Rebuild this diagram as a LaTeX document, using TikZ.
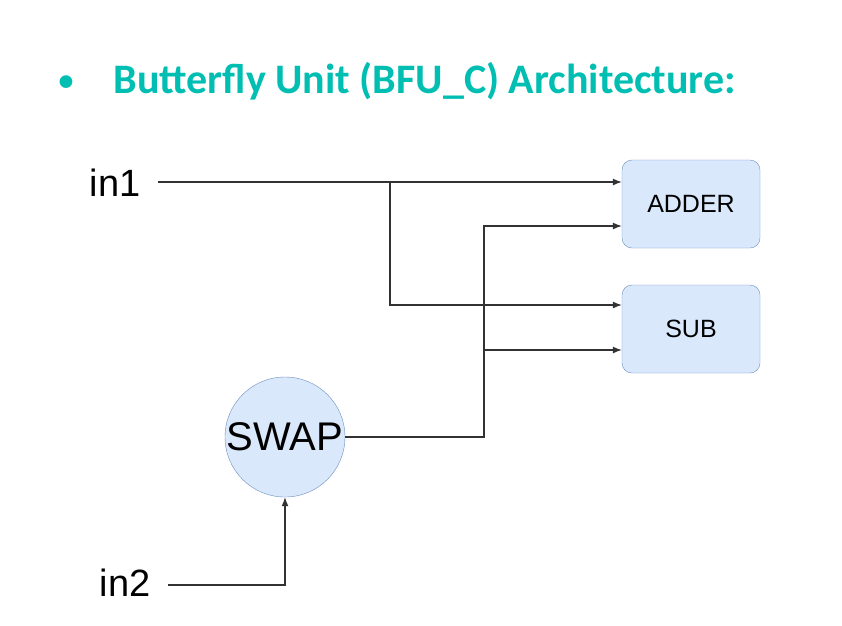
\documentclass[tikz,border=0pt]{standalone}
\usepackage{fontspec}
\setmainfont{Liberation Sans}
\newfontfamily\titlefont{Carlito}
\usetikzlibrary{arrows.meta}
\definecolor{titleteal}{RGB}{0,190,178}
\definecolor{boxfill}{RGB}{218,232,252}
\definecolor{boxline}{RGB}{108,142,191}
\definecolor{wire}{RGB}{50,50,50}
\tikzset{
    block/.style={draw=boxline, fill=boxfill, rounded corners=10pt, minimum width=138pt, minimum height=88pt, font=\fontsize{25}{28}\selectfont},
    swapnode/.style={draw=boxline, fill=boxfill, circle, minimum size=120pt, inner sep=0pt, font=\fontsize{40}{44}\selectfont},
    wirearrow/.style={draw=wire, line width=1.1pt, -{Latex[length=9pt,width=7pt]}},
    plainwire/.style={draw=wire, line width=1.1pt}
}
\begin{document}
\begin{tikzpicture}[x=1pt, y=-1pt]
                    \useasboundingbox (0, 0) rectangle (842, 625);

                    \node[titleteal] (bullet) at (66, 83) {\titlefont\bfseries\fontsize{30}{34}\selectfont •};
                    \node[titleteal, anchor=west] (title) at (110, 81) {\titlefont\bfseries\fontsize{42}{46}\selectfont Butterfly Unit (BFU\_C) Architecture:};

                    \node (in1) at (115, 183) {\fontsize{38}{42}\selectfont in1};
                    \node (in2) at (125, 583) {\fontsize{38}{42}\selectfont in2};

                    \node[block] (adder) at (691, 204) {ADDER};
                    \node[block] (sub) at (691, 329) {SUB};
                    \node[swapnode] (swap) at (285, 437) {SWAP};

                    \coordinate (in1end) at (158, 182);
                    \coordinate (in2end) at (168, 585);
                    \coordinate (split1) at (390, 182);
                    \coordinate (split2) at (484, 350);

                    \draw[wirearrow] (in1end) -- (adder.west |- in1end);
                    \draw[wirearrow] (split1) |- (sub.west |- 0, 305);
                    \draw[wirearrow] (swap.east) -| (484, 226) -- (adder.west |- 0, 226);
                    \draw[wirearrow] (split2) -- (sub.west |- split2);
                    \draw[wirearrow] (in2end) -| (swap.south);
                \end{tikzpicture}
\end{document}
